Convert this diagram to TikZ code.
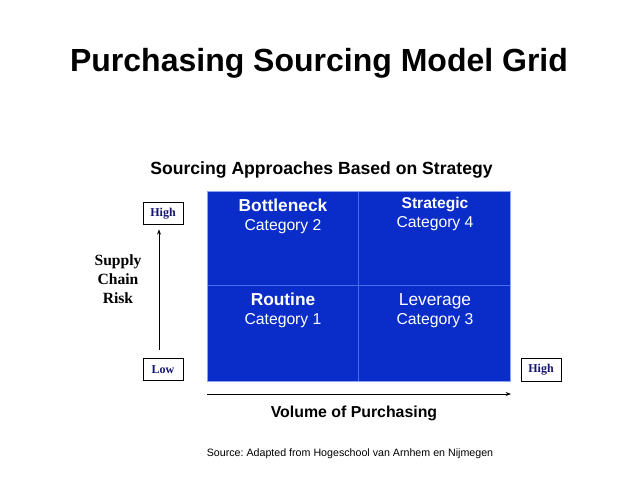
\documentclass[tikz,border=0pt]{standalone}
\usepackage{fontspec}
\setmainfont{Liberation Sans}
\newfontfamily\serifb{Liberation Serif}
\usetikzlibrary{arrows.meta}
\frenchspacing
\definecolor{gridblue}{RGB}{10,44,200}
\definecolor{divblue}{RGB}{70,110,235}
\definecolor{edgeblue}{RGB}{140,165,240}
\definecolor{navy}{RGB}{20,20,110}
\tikzset{
  txt/.style={inner sep=0pt, anchor=base},
  celltxt/.style={txt, text=white},
  lvlbox/.style={draw=black, line width=0.75pt, minimum width=30pt, minimum height=17pt, inner sep=0pt,
     font=\serifb\bfseries\fontsize{9}{11}\selectfont, text=navy},
  axis/.style={line width=0.6pt, -{Stealth[length=4pt,width=3pt]}}
}
\begin{document}
\begin{tikzpicture}[x=0.75pt,y=-0.75pt]
\useasboundingbox (0,0) rectangle (638,479);
% title
\node[txt, font=\bfseries\fontsize{24}{28}\selectfont] (title) at (319,71) {Purchasing Sourcing Model Grid};
\node[txt, font=\bfseries\fontsize{13.2}{16}\selectfont] (sub) at (321.5,174) {Sourcing Approaches Based on Strategy};
% grid
\fill[gridblue] (207,191) rectangle (510,381);
\draw[divblue, line width=0.5pt] (358,191) -- (358,381);
\draw[divblue, line width=0.5pt] (207,285) -- (510,285);
\draw[edgeblue, line width=0.4pt] (207,191) rectangle (510,381);
% cells
\node[celltxt, font=\bfseries\fontsize{13}{16}\selectfont] (bn) at (283,211) {Bottleneck};
\node[celltxt, font=\fontsize{11.8}{14}\selectfont] (c2) at (283,230) {Category 2};
\node[celltxt, font=\bfseries\fontsize{11.7}{14}\selectfont] (st) at (435,208) {Strategic};
\node[celltxt, font=\fontsize{11.8}{14}\selectfont] (c4) at (435,227) {Category 4};
\node[celltxt, font=\bfseries\fontsize{13}{16}\selectfont] (rt) at (283,305) {Routine};
\node[celltxt, font=\fontsize{11.8}{14}\selectfont] (c1) at (283,324) {Category 1};
\node[celltxt, font=\fontsize{13}{16}\selectfont] (lv) at (435,305) {Leverage};
\node[celltxt, font=\fontsize{11.8}{14}\selectfont] (c3) at (435,324) {Category 3};
% y axis
\node[lvlbox] (yhigh) at (163,213.5) {High};
\node[lvlbox] (ylow) at (163,369.5) {Low};
\draw[axis, shorten <=6pt, shorten >=3pt] (ylow.north -| 159,0) -- (yhigh.south -| 159,0);
\node[align=center, inner sep=0pt, font=\serifb\bfseries\fontsize{11.7}{14.5}\selectfont] (risk) at (118,279) {Supply\\Chain\\Risk};
% x axis
\node[lvlbox] (xhigh) at (541,370) {High};
\coordinate (xs) at (207,394);
\coordinate (xe) at (511,394);
\draw[axis] (xs) -- (xe);
\node[txt, font=\bfseries\fontsize{11.9}{14}\selectfont] (vol) at (354,417) {Volume of Purchasing};
\node[txt, font=\fontsize{8}{10}\selectfont] (src) at (350,456) {Source: Adapted from Hogeschool van Arnhem en Nijmegen};
\end{tikzpicture}
\end{document}
